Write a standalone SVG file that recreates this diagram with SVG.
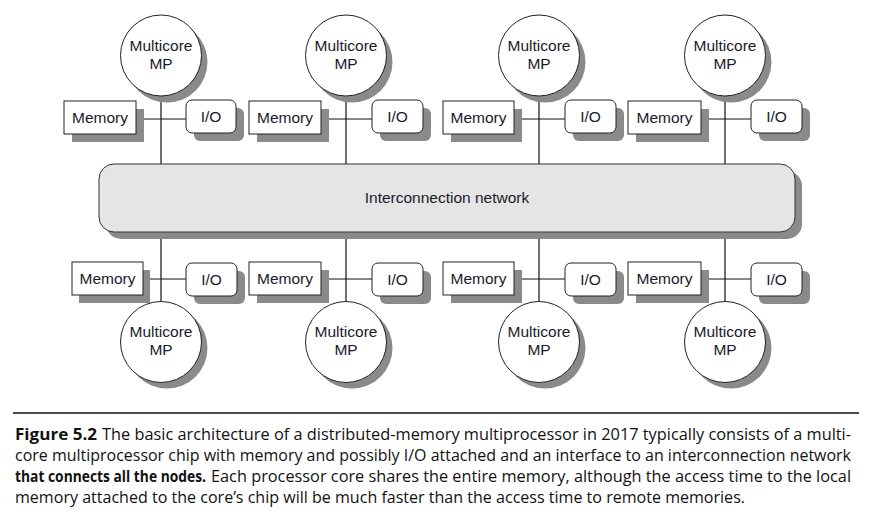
<svg xmlns="http://www.w3.org/2000/svg" width="877" height="521" viewBox="0 0 877 521">
<style>
.sh{fill:#8a8a8a;stroke:none}
.box{fill:#fff;stroke:#222;stroke-width:1}
.io{fill:#fff;stroke:#222;stroke-width:1}
.cir{fill:#fff;stroke:#222;stroke-width:1}
.net{fill:#e5e5e5;stroke:#333;stroke-width:1}
.ln{stroke:#111;stroke-width:1.2;fill:none}
.lb{font-family:"Liberation Sans",Arial,sans-serif;font-size:15.5px;fill:#1a1a2a;text-anchor:middle}
.cap{font-family:"Open Sans","Noto Sans",sans-serif;font-size:15.5px;fill:#111}
.b{font-weight:bold}
</style>
<rect width="877" height="521" fill="#fff"/>
<g id="connectors">
<line class="ln" x1="161" y1="96" x2="161" y2="164"/><line class="ln" x1="136" y1="119" x2="186" y2="119"/>
<line class="ln" x1="346" y1="96" x2="346" y2="164"/><line class="ln" x1="321" y1="119" x2="372" y2="119"/>
<line class="ln" x1="539" y1="96" x2="539" y2="164"/><line class="ln" x1="514" y1="119" x2="565" y2="119"/>
<line class="ln" x1="725" y1="96" x2="725" y2="164"/><line class="ln" x1="701" y1="119" x2="751" y2="119"/>
<line class="ln" x1="161" y1="232" x2="161" y2="302"/><line class="ln" x1="143" y1="279" x2="186" y2="279"/>
<line class="ln" x1="346" y1="232" x2="346" y2="302"/><line class="ln" x1="321" y1="279" x2="372" y2="279"/>
<line class="ln" x1="539" y1="232" x2="539" y2="302"/><line class="ln" x1="514" y1="279" x2="565" y2="279"/>
<line class="ln" x1="725" y1="232" x2="725" y2="302"/><line class="ln" x1="701" y1="279" x2="751" y2="279"/>
</g>
<g id="network">
<rect class="sh" x="106" y="171" width="696" height="68" rx="15"/>
<rect class="net" x="99" y="164" width="696" height="68" rx="15"/>
<text class="lb" x="447" y="203">Interconnection network</text>
</g>
<g id="mp1"><circle class="sh" cx="167" cy="62" r="40.5"/><circle class="cir" cx="161" cy="55.5" r="40.5"/><text class="lb" x="161" y="51">Multicore</text><text class="lb" x="161" y="69">MP</text></g>
<g id="mem1"><rect class="sh" x="72" y="109" width="72" height="33"/><rect class="box" x="64" y="101" width="72" height="33"/><text class="lb" x="100" y="123">Memory</text></g>
<g id="io1"><rect class="sh" x="194" y="108" width="50" height="33" rx="6"/><rect class="io" x="186" y="100" width="50" height="33" rx="6"/><text class="lb" x="211" y="122">I/O</text></g>

<g id="mp2"><circle class="sh" cx="352" cy="62" r="40.5"/><circle class="cir" cx="346" cy="55.5" r="40.5"/><text class="lb" x="346" y="51">Multicore</text><text class="lb" x="346" y="69">MP</text></g>
<g id="mem2"><rect class="sh" x="257" y="109" width="72" height="33"/><rect class="box" x="249" y="101" width="72" height="33"/><text class="lb" x="285" y="123">Memory</text></g>
<g id="io2"><rect class="sh" x="380" y="108" width="51" height="33" rx="6"/><rect class="io" x="372" y="100" width="51" height="33" rx="6"/><text class="lb" x="397.5" y="122">I/O</text></g>

<g id="mp3"><circle class="sh" cx="545" cy="62" r="40.5"/><circle class="cir" cx="539" cy="55.5" r="40.5"/><text class="lb" x="539" y="51">Multicore</text><text class="lb" x="539" y="69">MP</text></g>
<g id="mem3"><rect class="sh" x="451" y="109" width="71" height="33"/><rect class="box" x="443" y="101" width="71" height="33"/><text class="lb" x="478.5" y="123">Memory</text></g>
<g id="io3"><rect class="sh" x="573" y="108" width="51" height="33" rx="6"/><rect class="io" x="565" y="100" width="51" height="33" rx="6"/><text class="lb" x="590.5" y="122">I/O</text></g>

<g id="mp4"><circle class="sh" cx="731" cy="62" r="40.5"/><circle class="cir" cx="725" cy="55.5" r="40.5"/><text class="lb" x="725" y="51">Multicore</text><text class="lb" x="725" y="69">MP</text></g>
<g id="mem4"><rect class="sh" x="636" y="109" width="73" height="33"/><rect class="box" x="628" y="101" width="73" height="33"/><text class="lb" x="664.5" y="123">Memory</text></g>
<g id="io4"><rect class="sh" x="759" y="108" width="51" height="33" rx="6"/><rect class="io" x="751" y="100" width="51" height="33" rx="6"/><text class="lb" x="776.5" y="122">I/O</text></g>

<g id="mem5"><rect class="sh" x="79" y="270" width="71" height="33"/><rect class="box" x="72" y="262" width="71" height="33"/><text class="lb" x="107.5" y="284">Memory</text></g>
<g id="io5"><rect class="sh" x="194" y="271" width="51" height="33" rx="6"/><rect class="io" x="186" y="263" width="51" height="33" rx="6"/><text class="lb" x="211.5" y="285">I/O</text></g>
<g id="mp5"><circle class="sh" cx="167" cy="348" r="40.5"/><circle class="cir" cx="161" cy="342" r="40.5"/><text class="lb" x="161" y="337">Multicore</text><text class="lb" x="161" y="355">MP</text></g>

<g id="mem6"><rect class="sh" x="257" y="270" width="72" height="33"/><rect class="box" x="249" y="262" width="72" height="33"/><text class="lb" x="285" y="284">Memory</text></g>
<g id="io6"><rect class="sh" x="380" y="271" width="51" height="33" rx="6"/><rect class="io" x="372" y="263" width="51" height="33" rx="6"/><text class="lb" x="397.5" y="285">I/O</text></g>
<g id="mp6"><circle class="sh" cx="352" cy="348" r="40.5"/><circle class="cir" cx="346" cy="342" r="40.5"/><text class="lb" x="346" y="337">Multicore</text><text class="lb" x="346" y="355">MP</text></g>

<g id="mem7"><rect class="sh" x="451" y="270" width="71" height="33"/><rect class="box" x="443" y="262" width="71" height="33"/><text class="lb" x="478.5" y="284">Memory</text></g>
<g id="io7"><rect class="sh" x="573" y="271" width="51" height="33" rx="6"/><rect class="io" x="565" y="263" width="51" height="33" rx="6"/><text class="lb" x="590.5" y="285">I/O</text></g>
<g id="mp7"><circle class="sh" cx="545" cy="348" r="40.5"/><circle class="cir" cx="539" cy="342" r="40.5"/><text class="lb" x="539" y="337">Multicore</text><text class="lb" x="539" y="355">MP</text></g>

<g id="mem8"><rect class="sh" x="636" y="270" width="73" height="33"/><rect class="box" x="628" y="262" width="73" height="33"/><text class="lb" x="664.5" y="284">Memory</text></g>
<g id="io8"><rect class="sh" x="759" y="271" width="51" height="33" rx="6"/><rect class="io" x="751" y="263" width="51" height="33" rx="6"/><text class="lb" x="776.5" y="285">I/O</text></g>
<g id="mp8"><circle class="sh" cx="731" cy="348" r="40.5"/><circle class="cir" cx="725" cy="342" r="40.5"/><text class="lb" x="725" y="337">Multicore</text><text class="lb" x="725" y="355">MP</text></g>

<g id="caption">
<line x1="13" y1="413" x2="859" y2="413" stroke="#111" stroke-width="1.3"/>
<text class="cap b" x="15" y="440" textLength="82" lengthAdjust="spacingAndGlyphs">Figure 5.2</text>
<text class="cap" x="102" y="440" textLength="749" lengthAdjust="spacingAndGlyphs">The basic architecture of a distributed-memory multiprocessor in 2017 typically consists of a multi-</text>
<text class="cap" x="15" y="461" textLength="836" lengthAdjust="spacingAndGlyphs">core multiprocessor chip with memory and possibly I/O attached and an interface to an interconnection network</text>
<text class="cap b" x="15" y="482" textLength="191" lengthAdjust="spacingAndGlyphs">that connects all the nodes.</text>
<text class="cap" x="211" y="482" textLength="640" lengthAdjust="spacingAndGlyphs">Each processor core shares the entire memory, although the access time to the local</text>
<text class="cap" x="15" y="503" textLength="730" lengthAdjust="spacingAndGlyphs">memory attached to the core’s chip will be much faster than the access time to remote memories.</text>
</g>
</svg>
